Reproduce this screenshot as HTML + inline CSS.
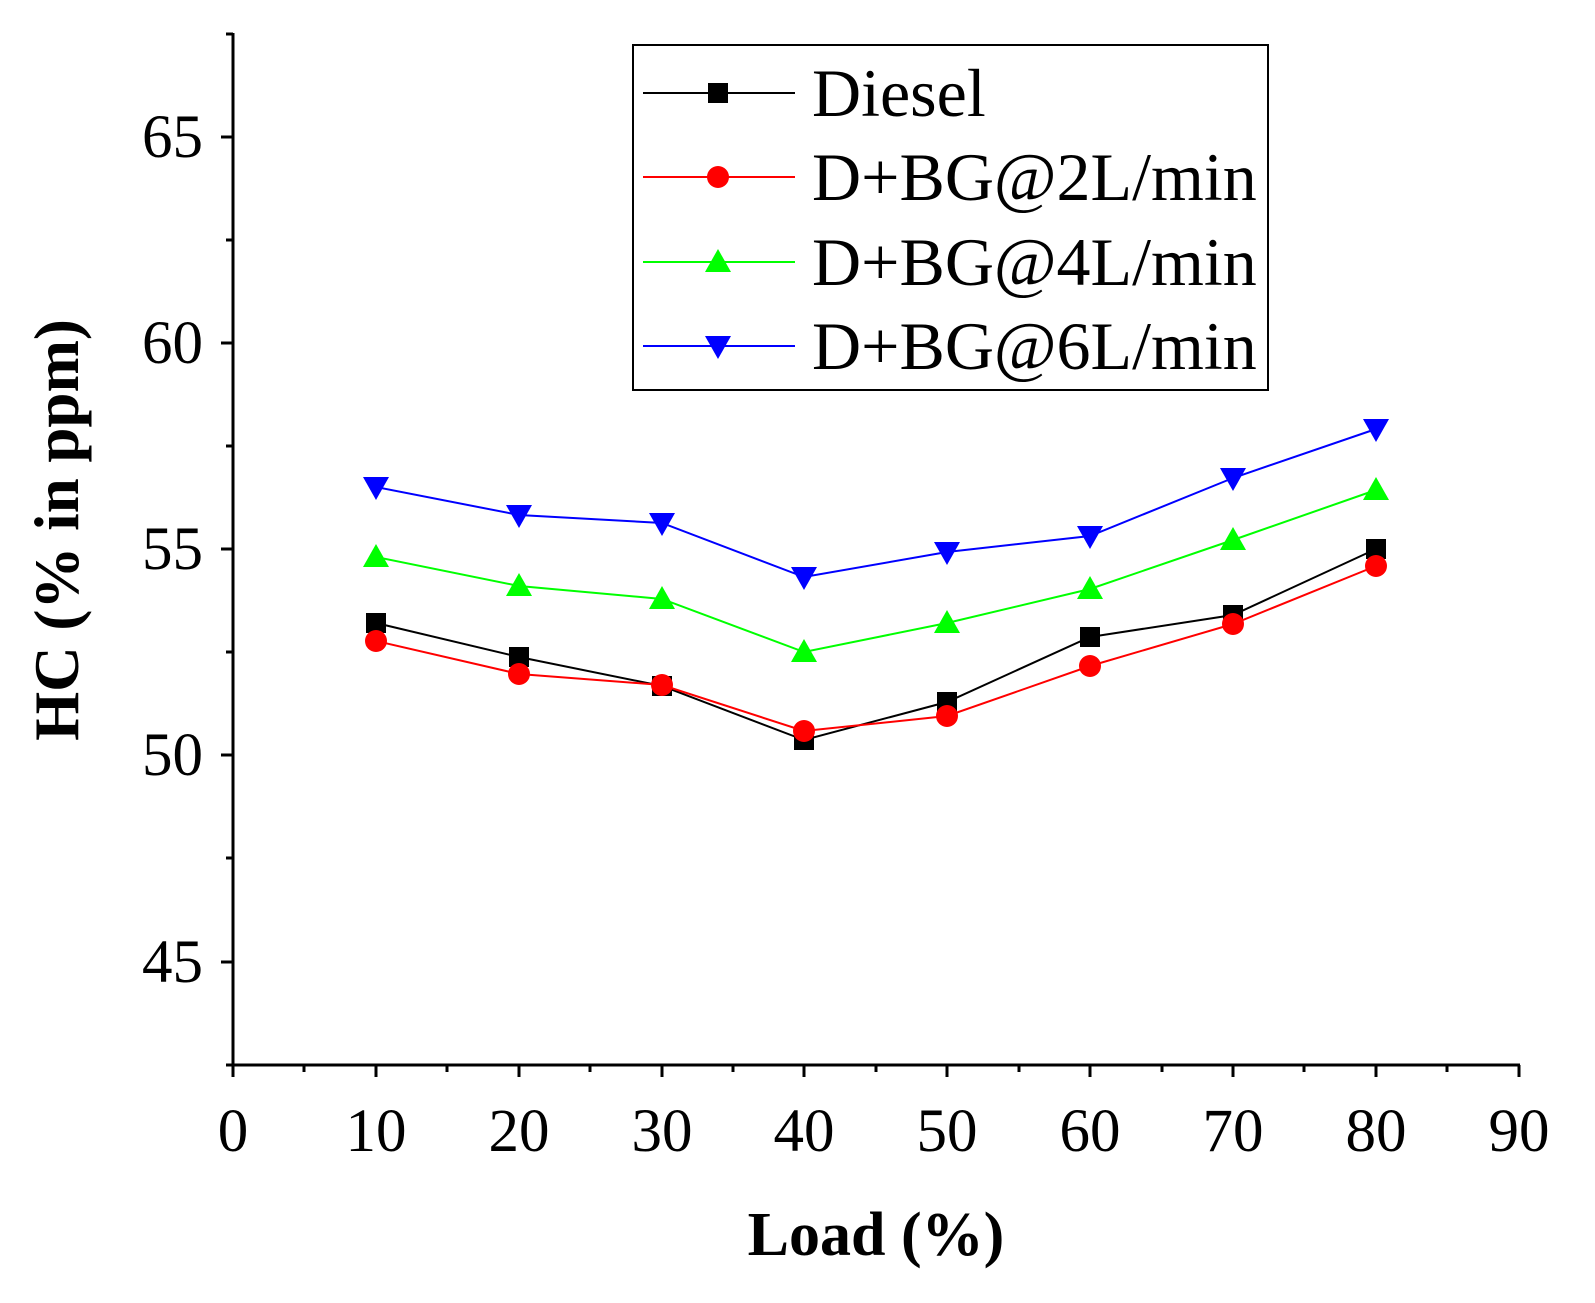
<!DOCTYPE html>
<html><head><meta charset="utf-8"><style>html,body{margin:0;padding:0;background:#fff}</style></head><body>
<svg width="1595" height="1298" xmlns="http://www.w3.org/2000/svg" font-family="Liberation Serif, serif">
<rect width="1595" height="1298" fill="#fff"/>
<g stroke="#000" stroke-width="3" fill="none">
<line x1="233" y1="33" x2="233" y2="1066"/>
<line x1="232" y1="1065" x2="1520" y2="1065"/>
</g>
<g stroke="#000" stroke-width="3">
<line x1="233" y1="1065" x2="233" y2="1077"/><line x1="376" y1="1065" x2="376" y2="1077"/><line x1="519" y1="1065" x2="519" y2="1077"/><line x1="662" y1="1065" x2="662" y2="1077"/><line x1="804" y1="1065" x2="804" y2="1077"/><line x1="947" y1="1065" x2="947" y2="1077"/><line x1="1090" y1="1065" x2="1090" y2="1077"/><line x1="1233" y1="1065" x2="1233" y2="1077"/><line x1="1376" y1="1065" x2="1376" y2="1077"/><line x1="1519" y1="1065" x2="1519" y2="1077"/>
<line x1="304" y1="1065" x2="304" y2="1072"/><line x1="447" y1="1065" x2="447" y2="1072"/><line x1="590" y1="1065" x2="590" y2="1072"/><line x1="733" y1="1065" x2="733" y2="1072"/><line x1="876" y1="1065" x2="876" y2="1072"/><line x1="1019" y1="1065" x2="1019" y2="1072"/><line x1="1162" y1="1065" x2="1162" y2="1072"/><line x1="1304" y1="1065" x2="1304" y2="1072"/><line x1="1447" y1="1065" x2="1447" y2="1072"/>
<line x1="221" y1="137" x2="233" y2="137"/><line x1="221" y1="343" x2="233" y2="343"/><line x1="221" y1="549" x2="233" y2="549"/><line x1="221" y1="755" x2="233" y2="755"/><line x1="221" y1="962" x2="233" y2="962"/>
<line x1="226" y1="34" x2="233" y2="34"/><line x1="226" y1="240" x2="233" y2="240"/><line x1="226" y1="446" x2="233" y2="446"/><line x1="226" y1="652" x2="233" y2="652"/><line x1="226" y1="858" x2="233" y2="858"/><line x1="226" y1="1065" x2="233" y2="1065"/>
</g>
<g font-size="61" text-anchor="middle">
<text x="233" y="1151">0</text><text x="376" y="1151">10</text><text x="519" y="1151">20</text><text x="662" y="1151">30</text><text x="804" y="1151">40</text><text x="947" y="1151">50</text><text x="1090" y="1151">60</text><text x="1233" y="1151">70</text><text x="1376" y="1151">80</text><text x="1519" y="1151">90</text>
</g>
<g font-size="61" text-anchor="end">
<text x="203" y="157">65</text><text x="203" y="363">60</text><text x="203" y="569">55</text><text x="203" y="775">50</text><text x="203" y="982">45</text>
</g>
<text x="876" y="1255" font-size="62" font-weight="bold" text-anchor="middle">Load (%)</text>
<text transform="translate(78,530) rotate(-90)" font-size="63" font-weight="bold" text-anchor="middle">HC (% in ppm)</text>

<polyline fill="none" stroke="#000" stroke-width="2" points="376,623 519,657 662,686 804,740 947,702 1090,637 1233,615 1376,549"/>
<g fill="#000"><rect x="366" y="613" width="20" height="20"/><rect x="509" y="647" width="20" height="20"/><rect x="652" y="676" width="20" height="20"/><rect x="794" y="730" width="20" height="20"/><rect x="937" y="692" width="20" height="20"/><rect x="1080" y="627" width="20" height="20"/><rect x="1223" y="605" width="20" height="20"/><rect x="1366" y="539" width="20" height="20"/></g>

<polyline fill="none" stroke="#f00" stroke-width="2" points="376,641 519,674 662,685 804,731 947,716 1090,666 1233,624 1376,566"/>
<g fill="#f00"><circle cx="376" cy="641" r="11"/><circle cx="519" cy="674" r="11"/><circle cx="662" cy="685" r="11"/><circle cx="804" cy="731" r="11"/><circle cx="947" cy="716" r="11"/><circle cx="1090" cy="666" r="11"/><circle cx="1233" cy="624" r="11"/><circle cx="1376" cy="566" r="11"/></g>

<polyline fill="none" stroke="#0f0" stroke-width="2" points="376,557 519,586 662,599 804,652 947,623 1090,589 1233,540 1376,490"/>
<g fill="#0f0">
<polygon points="376,544 389,567 363,567"/><polygon points="519,573 532,596 506,596"/><polygon points="662,586 675,609 649,609"/><polygon points="804,639 817,662 791,662"/><polygon points="947,610 960,633 934,633"/><polygon points="1090,576 1103,599 1077,599"/><polygon points="1233,527 1246,550 1220,550"/><polygon points="1376,477 1389,500 1363,500"/></g>

<polyline fill="none" stroke="#00f" stroke-width="2" points="376,487 519,515 662,523 804,577 947,552 1090,536 1233,478 1376,429"/>
<g fill="#00f">
<polygon points="363,477 389,477 376,500"/><polygon points="506,505 532,505 519,528"/><polygon points="649,513 675,513 662,536"/><polygon points="791,567 817,567 804,590"/><polygon points="934,542 960,542 947,565"/><polygon points="1077,526 1103,526 1090,549"/><polygon points="1220,468 1246,468 1233,491"/><polygon points="1363,419 1389,419 1376,442"/></g>

<rect x="633" y="45" width="635" height="345" fill="#fff" stroke="#000" stroke-width="2"/>
<g font-size="68">
<line x1="643" y1="93" x2="795" y2="93" stroke="#000" stroke-width="2"/><rect x="708" y="83" width="20" height="20" fill="#000"/>
<text x="812" y="116">Diesel</text>
<line x1="643" y1="177" x2="795" y2="177" stroke="#f00" stroke-width="2"/><circle cx="718" cy="177" r="11" fill="#f00"/>
<text x="812" y="200">D+BG@2L/min</text>
<line x1="643" y1="262" x2="795" y2="262" stroke="#0f0" stroke-width="2"/><polygon points="718,249 731,272 705,272" fill="#0f0"/>
<text x="812" y="285">D+BG@4L/min</text>
<line x1="643" y1="346" x2="795" y2="346" stroke="#00f" stroke-width="2"/><polygon points="705,336 731,336 718,359" fill="#00f"/>
<text x="812" y="369">D+BG@6L/min</text>
</g>
</svg>
</body></html>
